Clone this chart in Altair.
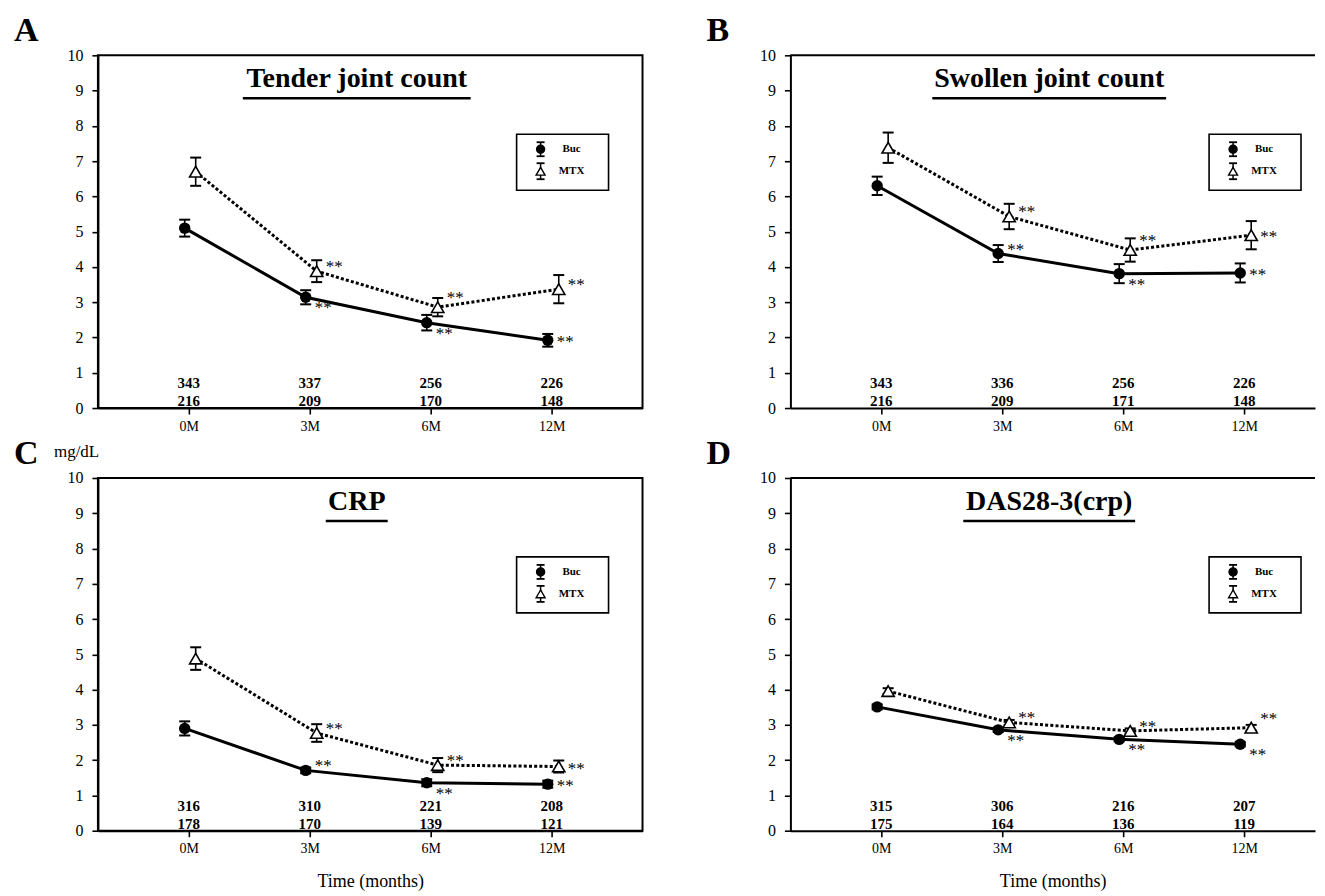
import altair as alt
import pandas as pd

# ---------------- data ----------------
time_labels = ["0M", "3M", "6M", "12M"]
time_index = [0, 1, 2, 3]

tender_buc_mean = [5.10, 3.14, 2.42, 1.92]
tender_buc_se = [0.24, 0.20, 0.22, 0.18]
tender_mtx_mean = [6.70, 3.88, 2.86, 3.37]
tender_mtx_se = [0.40, 0.31, 0.26, 0.40]
tender_buc_n = [343, 337, 256, 226]
tender_mtx_n = [216, 209, 170, 148]

swollen_buc_mean = [6.30, 4.38, 3.81, 3.83]
swollen_buc_se = [0.26, 0.24, 0.27, 0.27]
swollen_mtx_mean = [7.38, 5.43, 4.48, 4.90]
swollen_mtx_se = [0.43, 0.36, 0.33, 0.40]
swollen_buc_n = [343, 336, 256, 226]
swollen_mtx_n = [216, 209, 171, 148]

crp_buc_mean = [2.90, 1.71, 1.36, 1.32]
crp_buc_se = [0.20, 0.08, 0.10, 0.10]
crp_mtx_mean = [4.88, 2.77, 1.86, 1.82]
crp_mtx_se = [0.32, 0.25, 0.20, 0.17]
crp_buc_n = [316, 310, 221, 208]
crp_mtx_n = [178, 170, 139, 121]

das_buc_mean = [3.51, 2.86, 2.59, 2.45]
das_buc_se = [0.07, 0.06, 0.06, 0.06]
das_mtx_mean = [3.96, 3.07, 2.83, 2.92]
das_mtx_se = [0.08, 0.07, 0.07, 0.08]
das_buc_n = [315, 306, 216, 207]
das_mtx_n = [175, 164, 136, 119]

significance = ["", "**", "**", "**"]
groups = ["Buc", "MTX"]

# ---------------- styles ----------------
SERIF = "Liberation Serif"
H = 353
STAR_DY = {"ur": -4, "uur": -9, "r": 2, "lr": 11}
GROUP_OFF = {"Buc": -4, "MTX": 7}
# star placement (style) per panel
STAR_POS = {
    "A": {"Buc": ["", "lr", "lr", "r"], "MTX": ["", "ur", "uur", "ur"]},
    "B": {"Buc": ["", "ur", "lr", "r"], "MTX": ["", "ur", "uur", "r"]},
    "C": {"Buc": ["", "ur", "lr", "r"], "MTX": ["", "ur", "ur", "r"]},
    "D": {"Buc": ["", "lr", "lr", "lr"], "MTX": ["", "ur", "ur", "uur"]},
}
label_expr = "[" + ",".join("'%s'" % s for s in time_labels) + "][datum.value]"
one = pd.DataFrame({"k": [0]})


def make_panel(letter, title, ul_half, bm, bse, mm, mse, bn, mn, width, xmax,
               framed, xtitle=None, unit=None):
    rows = []
    for g, mean, se, n in (("Buc", bm, bse, bn), ("MTX", mm, mse, mn)):
        for i, t in enumerate(time_index):
            rows.append({"t": t, "group": g, "mean": mean[i],
                         "lo": mean[i] - se[i], "hi": mean[i] + se[i],
                         "n": n[i], "sig": significance[i],
                         "pos": STAR_POS[letter][g][i]})
    df = pd.DataFrame(rows)

    def X():
        return alt.X("t:Q", scale=alt.Scale(domain=[-0.75, xmax], nice=False, zero=False),
                     axis=alt.Axis(values=time_index, labelExpr=label_expr,
                                   title=xtitle if xtitle else None))

    def Y(field):
        return alt.Y(field + ":Q", scale=alt.Scale(domain=[0, 10], nice=False),
                     axis=alt.Axis(values=list(range(0, 11)), title=None))

    layers = []
    base = alt.Chart(df)
    # lines
    layers.append(base.transform_filter("datum.group == 'Buc'").mark_line(
        color="black", strokeWidth=3, xOffset=GROUP_OFF["Buc"]).encode(x=X(), y=Y("mean")))
    layers.append(base.transform_filter("datum.group == 'MTX'").mark_line(
        color="black", strokeWidth=3, strokeDash=[3, 2.2], xOffset=GROUP_OFF["MTX"]).encode(x=X(), y=Y("mean")))
    for g in groups:
        f = "datum.group == '%s'" % g
        off = GROUP_OFF[g]
        layers.append(base.transform_filter(f).mark_rule(color="black", strokeWidth=1.6, xOffset=off)
                      .encode(x=X(), y=Y("lo"), y2="hi:Q"))
        for fld in ("lo", "hi"):
            layers.append(base.transform_filter(f).mark_tick(
                orient="horizontal", color="black", size=11, thickness=2, xOffset=off, opacity=1)
                .encode(x=X(), y=Y(fld)))
    layers.append(base.transform_filter("datum.group == 'Buc'").mark_point(
        shape="circle", filled=True, color="black", size=130, opacity=1,
        xOffset=GROUP_OFF["Buc"]).encode(x=X(), y=Y("mean")))
    layers.append(base.transform_filter("datum.group == 'MTX'").mark_point(
        shape="triangle-up", filled=True, fill="white", stroke="black", strokeWidth=1.6,
        size=150, opacity=1, xOffset=GROUP_OFF["MTX"]).encode(x=X(), y=Y("mean")))
    # significance stars
    for g in groups:
        for p, dy in STAR_DY.items():
            f = "datum.group == '%s' && datum.pos == '%s'" % (g, p)
            layers.append(base.transform_filter(f).mark_text(
                font=SERIF, fontSize=17, align="left", baseline="middle",
                dx=GROUP_OFF[g] + 9, dy=dy, color="black")
                .encode(x=X(), y=Y("mean"), text="sig:N"))
    # n counts
    for g, py in (("Buc", H - 20), ("MTX", H - 2)):
        layers.append(base.transform_filter("datum.group == '%s'" % g).mark_text(
            font=SERIF, fontSize=15, fontWeight="bold", align="center",
            baseline="alphabetic", color="black")
            .encode(x=X(), y=alt.value(py), text="n:Q"))
    # panel title + underline
    tx = 259
    layers.append(alt.Chart(one).mark_text(
        text=title, font=SERIF, fontSize=28, fontWeight="bold", align="center",
        baseline="alphabetic", color="black").encode(x=alt.value(tx), y=alt.value(32)))
    layers.append(alt.Chart(one).mark_rule(color="black", strokeWidth=2.5).encode(
        x=alt.value(tx - ul_half), x2=alt.value(tx + ul_half), y=alt.value(43)))
    # panel letter
    layers.append(alt.Chart(one).mark_text(
        text=letter, font=SERIF, fontSize=34, fontWeight="bold", align="left",
        baseline="alphabetic", color="black").encode(x=alt.value(-84), y=alt.value(-14)))
    if unit:
        layers.append(alt.Chart(one).mark_text(
            text=unit, font=SERIF, fontSize=17, align="left", baseline="alphabetic",
            color="black").encode(x=alt.value(-44), y=alt.value(-21)))
    # legend box
    lx0, lx1, ly0, ly1 = 419, 511, 79, 135
    sx, tx2 = 443, 474
    layers.append(alt.Chart(one).mark_rect(fill="white", stroke="black", strokeWidth=1.6).encode(
        x=alt.value(lx0), x2=alt.value(lx1), y=alt.value(ly0), y2=alt.value(ly1)))
    for g, cy, half, shape, fill, sz in (("Buc", 94, 7, "circle", "black", 65),
                                        ("MTX", 116, 8, "triangle-up", "white", 80)):
        layers.append(alt.Chart(one).mark_rule(color="black", strokeWidth=1.5).encode(
            x=alt.value(sx), y=alt.value(cy - half), y2=alt.value(cy + half)))
        for yy in (cy - half, cy + half):
            layers.append(alt.Chart(one).mark_rule(color="black", strokeWidth=1.8).encode(
                x=alt.value(sx - 4), x2=alt.value(sx + 4), y=alt.value(yy)))
        layers.append(alt.Chart(one).mark_point(
            shape=shape, filled=True, fill=fill, stroke="black", strokeWidth=1.4,
            size=sz, opacity=1).encode(x=alt.value(sx), y=alt.value(cy)))
        layers.append(alt.Chart(one).mark_text(
            text=g, font=SERIF, fontSize=11, fontWeight="bold", align="center",
            baseline="middle", color="black").encode(x=alt.value(tx2), y=alt.value(cy)))
    if not framed:
        layers.append(alt.Chart(one).mark_rule(color="black", strokeWidth=2).encode(
            x=alt.value(0), x2=alt.value(width), y=alt.value(0)))
    ch = alt.layer(*layers).properties(width=width, height=H)
    if framed:
        ch = ch.properties(view=alt.ViewBackground(stroke="black", strokeWidth=2))
    else:
        ch = ch.properties(view=alt.ViewBackground(stroke="transparent"))
    return ch


WA = 545
WB = 525
XA = 3.75
XB = -0.75 + WB / (WA / 4.5)

pA = make_panel("A", "Tender joint count", 114, tender_buc_mean, tender_buc_se,
                tender_mtx_mean, tender_mtx_se, tender_buc_n, tender_mtx_n, WA, XA, True)
pB = make_panel("B", "Swollen joint count", 117, swollen_buc_mean, swollen_buc_se,
                swollen_mtx_mean, swollen_mtx_se, swollen_buc_n, swollen_mtx_n, WB, XB, False)
pC = make_panel("C", "CRP", 31, crp_buc_mean, crp_buc_se, crp_mtx_mean, crp_mtx_se,
                crp_buc_n, crp_mtx_n, WA, XA, True, xtitle="Time (months)", unit="mg/dL")
pD = make_panel("D", "DAS28-3(crp)", 86, das_buc_mean, das_buc_se, das_mtx_mean, das_mtx_se,
                das_buc_n, das_mtx_n, WB, XB, False, xtitle="Time (months)")

chart = alt.vconcat(
    alt.hconcat(pA, pB, spacing=62),
    alt.hconcat(pC, pD, spacing=62),
    spacing=2,
).properties(
    padding={"left": 5, "top": 5, "right": 0, "bottom": 0},
    background="white",
).configure_view(
    stroke="transparent"
).configure_axis(
    domainColor="black", domainWidth=2, tickColor="black", tickWidth=1.6, tickSize=6,
    labelFont=SERIF, labelColor="black", grid=False, titleFont=SERIF, titleColor="black",
    titleFontWeight="normal",
).configure_axisX(
    labelFontSize=14, labelPadding=5, titleFontSize=18, titlePadding=17,
).configure_axisY(
    labelFontSize=16, labelPadding=9,
)

chart.save("out.html", embed_options={"renderer": "svg", "actions": False})
